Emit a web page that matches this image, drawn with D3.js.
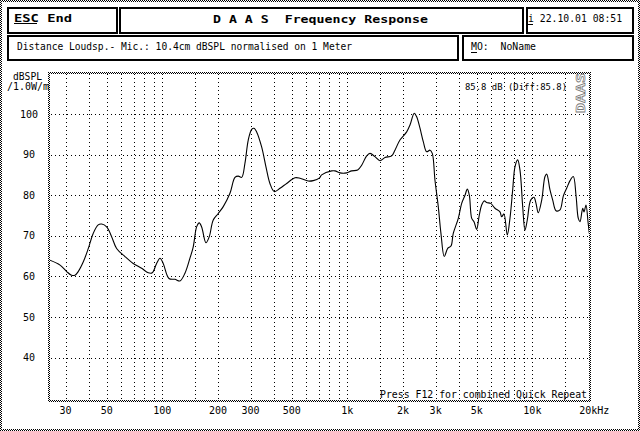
<!DOCTYPE html>
<html><head><meta charset="utf-8">
<script src="https://cdn.jsdelivr.net/npm/d3@7"></script>
<style>html,body{margin:0;padding:0;background:#fff;overflow:hidden} text{white-space:pre}</style>
</head><body>
<svg id="c" width="640" height="431"></svg>
<script>
// ---- data ----
const freqs = [24.7, 28, 30.4, 32.3, 33.7, 35.1, 37.4, 39.8, 42.3, 45.0, 47.0, 50.0, 53.2, 56.6, 62.8, 69.6, 77.3, 83.9, 88.2, 93.1,
  97.1, 101.1, 108.6, 117, 124.5, 132.5, 141, 146.9, 153.2, 158.3, 163.1, 172.1, 179.3, 188.4, 200.5, 213.4, 232, 246.9, 257.3, 268.4,
  279.6, 291.3, 303.9, 312.7, 323.3, 344.1, 363.1, 381.5, 402.5, 432.4, 469.8, 521, 554.4, 614.6, 654.1, 704.9, 726.3, 822.6, 857, 912,
  991.3, 1055, 1137, 1195, 1272, 1325, 1410, 1501, 1597, 1736, 1808, 1924, 2092, 2180, 2299, 2369, 2469, 2572, 2683, 2796,
  2877, 2975, 3100, 3205, 3340, 3485, 3631, 3736, 3977, 4148, 4323, 4450, 4562, 4700, 4836, 4995, 5164, 5320, 5495, 5662,
  5950, 6277, 6680, 6823, 7021, 7316, 7566, 7825, 8052, 8327, 8570, 8863, 9120, 9385, 9790, 10200, 10460, 10760, 11230, 11700,
  11950, 12450, 12880, 13420, 14100, 14690, 15320, 15970, 16640, 17210, 17710, 18090, 18710, 19010, 19490, 19980, 20310];
const levels = [64.0, 62.8, 61.2, 60.3, 60.3, 61.2, 63.6, 66.9, 70.6, 72.7, 72.9, 72.2, 69.8, 66.9, 64.9, 63.2, 62.0, 60.9, 60.9, 63.2,
  64.5, 63.2, 59.5, 59.3, 58.9, 60.8, 64.5, 67.3, 72.2, 73.2, 72.2, 68.3, 69.8, 73.9, 75.5, 77.2, 80.5, 84.4, 84.7, 84.4,
  87.9, 93.6, 96.2, 96.5, 95.6, 91.9, 87.0, 82.9, 80.9, 81.7, 82.9, 84.3, 84.2, 83.5, 83.6, 84.2, 85.0, 86.0, 86.0, 85.5,
  85.5, 86.0, 86.2, 87.4, 89.7, 90.3, 89.5, 88.5, 89.3, 89.7, 91.1, 93.6, 95.6, 97.3, 100.2, 99.3, 96.5, 93.2, 90.7, 91.1,
  90.3, 83.7, 77.2, 70.6, 64.9, 66.9, 67.5, 70.6, 74.3, 78.0, 80.0, 81.5, 80.0, 74.3, 73.5, 71.6, 75.1, 77.6, 78.6, 78.2,
  78.0, 76.8, 75.9, 74.7, 75.4, 70.2, 74.3, 81.3, 87.0, 88.7, 86.2, 77.2, 71.4, 73.9, 78.8, 79.5, 78.0, 75.7, 78.8, 84.6,
  85.2, 81.3, 78.8, 76.2, 76.4, 79.8, 81.7, 83.6, 84.6, 80.0, 74.3, 73.5, 76.8, 75.9, 77.6, 73.5, 70.6];
const gridFreqs = [30, 40, 50, 60, 70, 80, 90, 100, 150, 200, 300, 400, 500, 600, 700, 800, 900, 1000, 1500, 2000,
  3000, 4000, 5000, 6000, 7000, 8000, 9000, 10000, 15000];
const xTickValues = [30, 50, 100, 200, 300, 500, 1000, 2000, 3000, 5000, 10000, 20000];
const xTickLabels = ["30", "50", "100", "200", "300", "500", "1k", "2k", "3k", "5k", "10k", "20k"];
const xUnit = "Hz";
const yTickValues = [40, 50, 60, 70, 80, 90, 100];
const yUnitLines = ["dBSPL", "/1.0W/m"];
const headerLeft = "ESC End";
const headerTitle = "D A A S  Frequency Response";
const headerDate = "i 22.10.01 08:51";
const infoText = "Distance Loudsp.- Mic.: 10.4cm dBSPL normalised on 1 Meter";
const memoText = "MO:  NoName";
const levelNote = "85.8 dB (Diff:85.8)";
const footNote = "Press F12 for combined Quick Repeat";
const stampText = "DAAS";

// ---- drawing ----
const FONT = "'DejaVu Sans Mono', 'Liberation Mono', monospace";
const svg = d3.select("#c");
const defs = svg.append("defs");
const pat = defs.append("pattern").attr("id", "chk").attr("width", 2).attr("height", 2)
  .attr("patternUnits", "userSpaceOnUse");
pat.append("rect").attr("width", 2).attr("height", 2).attr("fill", "#fff");
pat.append("rect").attr("x", 0).attr("y", 0).attr("width", 1).attr("height", 1).attr("fill", "#000");
pat.append("rect").attr("x", 1).attr("y", 1).attr("width", 1).attr("height", 1).attr("fill", "#000");

svg.append("rect").attr("width", 640).attr("height", 431).attr("fill", "#fff");

function chk(x, y, w, h) {
  svg.append("rect").attr("x", x).attr("y", y).attr("width", w).attr("height", h)
    .attr("fill", "url(#chk)").attr("shape-rendering", "crispEdges");
}
// outer dithered frame
chk(0, 0, 640, 2); chk(0, 429, 640, 2); chk(0, 0, 2, 431); chk(638, 0, 2, 431);

// header boxes
function box(x0, y0, x1, y1) {
  svg.append("rect").attr("x", x0 + 1).attr("y", y0 + 1).attr("width", x1 - x0 - 2).attr("height", y1 - y0 - 2)
    .attr("fill", "none").attr("stroke", "#000").attr("stroke-width", 2).attr("shape-rendering", "crispEdges");
}
box(7, 7, 118, 34); box(119, 7, 524, 34); box(526, 7, 634, 34);
box(7, 35, 459, 61); box(462, 35, 634, 61);

function txt(s, x, y, len, size, weight) {
  return svg.append("text").attr("x", x).attr("y", y).text(s)
    .attr("xml:space", "preserve")
    .attr("font-family", FONT).attr("font-size", size).attr("font-weight", weight || "normal")
    .attr("textLength", len).attr("lengthAdjust", "spacingAndGlyphs").attr("fill", "#000");
}
function uline(x0, x1, y) {
  svg.append("rect").attr("x", x0).attr("y", y).attr("width", x1 - x0).attr("height", 1).attr("fill", "#000")
    .attr("shape-rendering", "crispEdges");
}
txt(headerLeft, 14, 22, 58, 11, "bold"); uline(14, 37, 23);
txt(headerTitle, 213, 22.5, 215, 11, "bold");
txt(headerDate, 528, 22, 94, 10); uline(528, 533, 24);
txt(infoText, 17, 50, 335, 10);
txt(memoText, 471, 50, 65, 10); uline(471, 477, 52);

// scales
const x = d3.scaleLog().domain([24.4, 20740]).range([49, 591]);
const y = d3.scaleLinear().domain([30, 110]).range([398.3, 73.4]);

// grid
const plotL = 50, plotR = 589, plotT = 74, plotB = 400;
svg.append("g").selectAll("line").data(gridFreqs).join("line")
  .attr("x1", d => Math.round(x(d)) + 0.5).attr("x2", d => Math.round(x(d)) + 0.5)
  .attr("y1", plotT).attr("y2", plotB)
  .attr("stroke", "#000").attr("stroke-width", 1).attr("stroke-dasharray", "1,3")
  .attr("shape-rendering", "crispEdges");
svg.append("g").selectAll("line").data(yTickValues).join("line")
  .attr("y1", d => Math.round(y(d)) + 0.5).attr("y2", d => Math.round(y(d)) + 0.5)
  .attr("x1", plotL + 1).attr("x2", plotR)
  .attr("stroke", "#000").attr("stroke-width", 1).attr("stroke-dasharray", "1,3")
  .attr("shape-rendering", "crispEdges");

// plot frame (dithered)
chk(48, 72, 2, 330); chk(48, 72, 543, 2); chk(48, 400, 543, 2); chk(589, 72, 2, 330);

// y labels
svg.append("g").selectAll("text").data(yTickValues).join("text")
  .attr("x", 29).attr("y", d => y(d) + 3.5).attr("text-anchor", "middle")
  .attr("font-family", FONT).attr("font-size", 10).attr("fill", "#000")
  .text(d => d);
txt(yUnitLines[0], 13, 80, 29, 10);
txt(yUnitLines[1], 7, 90, 42, 10);

// x labels
svg.append("g").selectAll("text").data(xTickValues).join("text")
  .attr("x", (d, i) => i === xTickValues.length - 1 ? x(d) - xTickLabels[i].length * 2.95 : x(d))
  .attr("y", 413.5)
  .attr("text-anchor", (d, i) => i === xTickValues.length - 1 ? "start" : "middle")
  .attr("font-family", FONT).attr("font-size", 10).attr("fill", "#000")
  .text((d, i) => i === xTickValues.length - 1 ? xTickLabels[i] + xUnit : xTickLabels[i]);

// notes
txt(levelNote, 465, 89.5, 102, 9.5);
txt(footNote, 380, 397.5, 207, 10);
svg.append("text").attr("transform", "translate(585,113) rotate(-90)").text(stampText)
  .attr("font-family", FONT).attr("font-size", 12).attr("font-weight", "bold")
  .attr("textLength", 40).attr("lengthAdjust", "spacingAndGlyphs")
  .attr("fill", "none").attr("stroke", "#777").attr("stroke-width", 0.7);

// curve
defs.append("clipPath").attr("id", "clip").append("rect")
  .attr("x", plotL).attr("y", plotT).attr("width", plotR - plotL).attr("height", plotB - plotT);
const pts = freqs.map((f, i) => [f, levels[i]]);
svg.append("path").datum(pts)
  .attr("clip-path", "url(#clip)")
  .attr("d", d3.line().x(d => x(d[0])).y(d => y(d[1])).curve(d3.curveCatmullRom.alpha(0.5)))
  .attr("fill", "none").attr("stroke", "#000").attr("stroke-width", 1.1);
</script>
</body></html>
